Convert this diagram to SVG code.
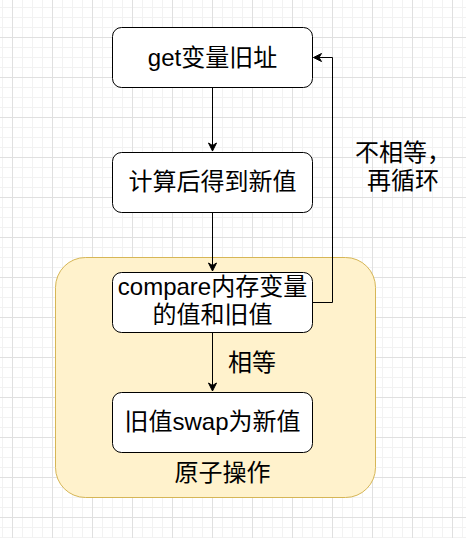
<svg xmlns="http://www.w3.org/2000/svg" width="466" height="538" viewBox="0 0 466 538">
<defs>
<pattern id="minor" x="2" y="7" width="10" height="10" patternUnits="userSpaceOnUse">
<path d="M0 0.5H10M0.5 0V10" fill="none" stroke="#f2f2f2" stroke-width="1"/>
</pattern>
<pattern id="major" x="12" y="37" width="40" height="40" patternUnits="userSpaceOnUse">
<path d="M0 0.5H40M0.5 0V40" fill="none" stroke="#e0e0e0" stroke-width="1"/>
</pattern>
<marker id="arr" markerWidth="10" markerHeight="10" refX="9" refY="5" orient="auto" markerUnits="userSpaceOnUse">
<path d="M1 1L9 5L1 9L3.5 5Z" fill="#000" stroke="#000" stroke-width="1"/>
</marker>
<style>
.box{fill:#fff;stroke:#000;stroke-width:1}
.t{font-family:"Liberation Sans","Noto Sans CJK SC",sans-serif;font-size:24px;fill:#000;text-anchor:middle}
.c{fill:none;stroke:#000;stroke-width:1}
</style>
</defs>
<rect width="466" height="538" fill="#fff"/>
<rect width="466" height="538" fill="url(#minor)"/>
<rect width="466" height="538" fill="url(#major)"/>
<g id="atomic">
<rect x="55.5" y="257.5" width="320" height="240" rx="30" fill="#fff2cc" stroke="#d6b656"/>
<text class="t" x="222.5" y="481">原子操作</text>
</g>
<g id="connectors">
<path class="c" d="M212.5 87.5V151" marker-end="url(#arr)"/>
<path class="c" d="M212.5 212.5V271" marker-end="url(#arr)"/>
<path class="c" d="M212.5 332.5V391" marker-end="url(#arr)"/>
<path class="c" d="M312.5 302.5H332.5V57.5H313.5" marker-end="url(#arr)"/>
<text class="t" x="252" y="371">相等</text>
<text class="t" x="403" y="161">不相等，</text>
<text class="t" x="403" y="189">再循环</text>
</g>
<g id="n1">
<rect class="box" x="112.5" y="27.5" width="200" height="60" rx="9"/>
<text class="t" x="212.5" y="66">get变量旧址</text>
</g>
<g id="n2">
<rect class="box" x="112.5" y="152.5" width="200" height="60" rx="9"/>
<text class="t" x="212.5" y="190">计算后得到新值</text>
</g>
<g id="n3">
<rect class="box" x="112.5" y="272.5" width="200" height="60" rx="9"/>
<text class="t" x="212.5" y="295">compare内存变量</text>
<text class="t" x="212.5" y="323">的值和旧值</text>
</g>
<g id="n4">
<rect class="box" x="112.5" y="392.5" width="200" height="60" rx="9"/>
<text class="t" x="212.5" y="430">旧值swap为新值</text>
</g>
</svg>
